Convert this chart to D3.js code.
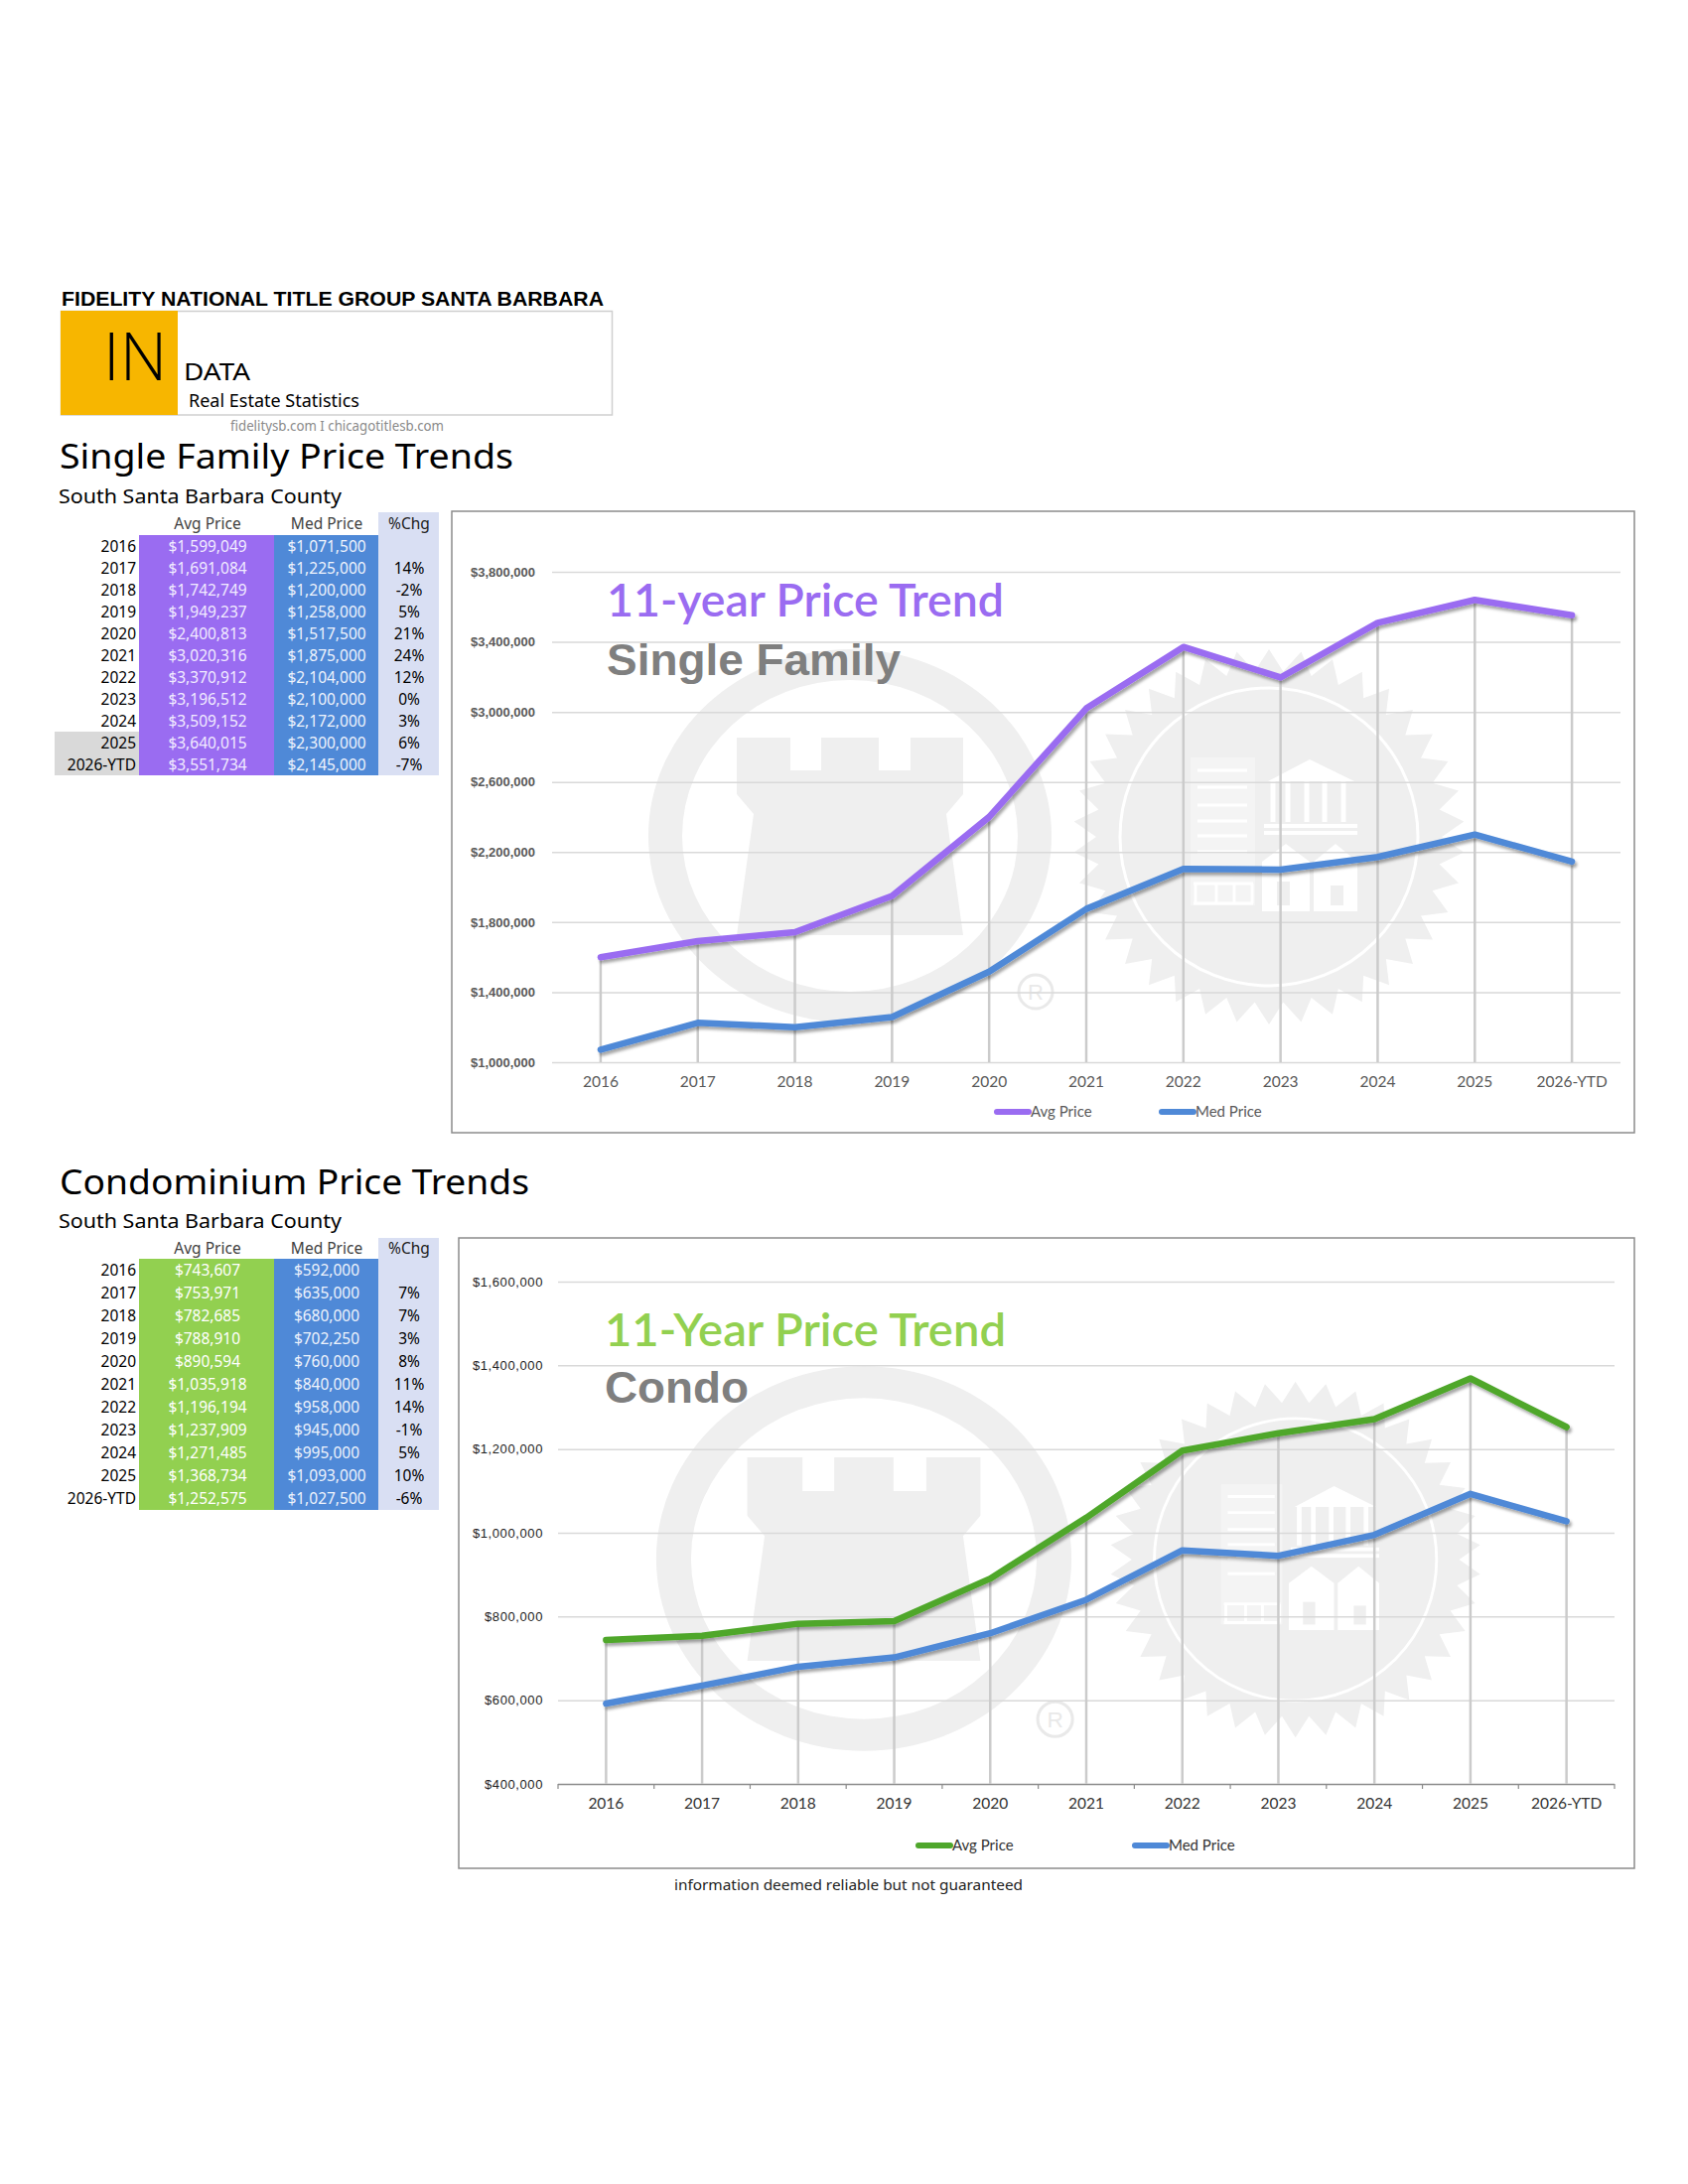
<!DOCTYPE html>
<html><head><meta charset="utf-8">
<script src="https://cdn.jsdelivr.net/npm/d3@7/dist/d3.min.js"></script>
<style>body{margin:0;background:#fff}</style>
</head><body>
<script>
// ---------------- DATA ----------------
const years = ["2016","2017","2018","2019","2020","2021","2022","2023","2024","2025","2026-YTD"];
const sfAvg = [1599049,1691084,1742749,1949237,2400813,3020316,3370912,3196512,3509152,3640015,3551734];
const sfMed = [1071500,1225000,1200000,1258000,1517500,1875000,2104000,2100000,2172000,2300000,2145000];
const sfChg = ["","14%","-2%","5%","21%","24%","12%","0%","3%","6%","-7%"];
const condoAvg = [743607,753971,782685,788910,890594,1035918,1196194,1237909,1271485,1368734,1252575];
const condoMed = [592000,635000,680000,702250,760000,840000,958000,945000,995000,1093000,1027500];
const condoChg = ["","7%","7%","3%","8%","11%","14%","-1%","5%","10%","-6%"];
const sfTicks = [1000000,1400000,1800000,2200000,2600000,3000000,3400000,3800000];
const condoTicks = [400000,600000,800000,1000000,1200000,1400000,1600000];
const seriesNames = ["Avg Price","Med Price"];

// ---------------- STYLE ----------------
const FT = "'Noto Sans', sans-serif";
const FA = "Lato, sans-serif";
const FH = "'Liberation Sans', Arial, sans-serif";
const C = {purple:"#9A6CF1", blue:"#4F89D7", green:"#92D050", lineGreen:"#4FA72C",
  lav:"#D9DFF3", gray:"#D9D9D9", yellow:"#F7B600", wm:"#EFEFEF"};
const money = d3.format("$,");

const svg = d3.select("body").append("svg").attr("width",1700).attr("height",2200)
  .style("font-family",FT);
svg.append("rect").attr("width",1700).attr("height",2200).attr("fill","#fff");
const defs = svg.append("defs");
const f = defs.append("filter").attr("id","sh").attr("x","-5%").attr("y","-10%").attr("width","115%").attr("height","130%");
f.append("feDropShadow").attr("dx",2).attr("dy",3).attr("stdDeviation",1.6)
  .attr("flood-color","#000").attr("flood-opacity",0.35);

function txt(g, s, x, y, o={}) {
  const t = g.append("text").attr("x",x).attr("y",y).text(s)
    .attr("font-family",o.ff||FT).attr("font-size",o.fs||16)
    .attr("fill",o.fill||"#000").attr("font-weight",o.fw||400)
    .attr("text-anchor",o.anchor||"start");
  if (o.tl) t.attr("textLength",o.tl).attr("lengthAdjust","spacingAndGlyphs");
  if (o.ls) t.attr("letter-spacing",o.ls);
  return t;
}

// ---------------- HEADER ----------------
txt(svg,"FIDELITY NATIONAL TITLE GROUP SANTA BARBARA",62,308,{ff:FH,fs:19.5,fw:700,tl:546});
svg.append("rect").attr("x",61.5).attr("y",313.5).attr("width",555).attr("height",104.5)
  .attr("fill","none").attr("stroke","#cfcfcf").attr("stroke-width",1.5);
svg.append("rect").attr("x",61).attr("y",313).attr("width",118).attr("height",105).attr("fill",C.yellow);
txt(svg,"IN",104,383,{ff:"'Open Sans', 'Noto Sans', sans-serif",fs:66,fw:300});
txt(svg,"DATA",185,383,{fs:24,fw:400,tl:67});
txt(svg,"Real Estate Statistics",190,410,{fs:18,tl:172});
txt(svg,"fidelitysb.com I chicagotitlesb.com",232,434,{fs:13.5,fill:"#8a8a8a",tl:215});

// ---------------- TABLES ----------------
function drawTable(o) {
  const g = svg.append("g");
  txt(g,o.title,60,o.titleY,{fs:35,tl:o.titleW});
  txt(g,"South Santa Barbara County",59,o.subY,{fs:19.5,tl:285});
  const n = years.length, top = o.top, rh = o.rh;
  g.append("rect").attr("x",381).attr("y",o.lavTop).attr("width",61).attr("height",top+n*rh-o.lavTop).attr("fill",C.lav);
  if (o.grayRows) o.grayRows.forEach(i=>{
    g.append("rect").attr("x",55).attr("y",top+i*rh).attr("width",85).attr("height",rh).attr("fill",C.gray);
  });
  g.append("rect").attr("x",140).attr("y",top).attr("width",136).attr("height",n*rh).attr("fill",o.c1);
  g.append("rect").attr("x",276).attr("y",top).attr("width",105).attr("height",n*rh).attr("fill",C.blue);
  txt(g,"Avg Price",209,o.headY,{fs:15.5,anchor:"middle",fill:"#404040"});
  txt(g,"Med Price",329,o.headY,{fs:15.5,anchor:"middle",fill:"#404040"});
  txt(g,"%Chg",412,o.headY,{fs:15.5,anchor:"middle",fill:"#222"});
  years.forEach((yr,i)=>{
    const b = top+i*rh+17;
    txt(g,yr,137,b,{fs:15.5,anchor:"end"});
    txt(g,money(o.avg[i]),209,b,{fs:15.5,anchor:"middle",fill:o.t1});
    txt(g,money(o.med[i]),329,b,{fs:15.5,anchor:"middle",fill:"#EEF3FC"});
    txt(g,o.chg[i],412,b,{fs:15.5,anchor:"middle"});
  });
}
drawTable({title:"Single Family Price Trends",titleY:472,titleW:457,subY:507,top:539,rh:22,lavTop:516,headY:533,
  avg:sfAvg,med:sfMed,chg:sfChg,c1:C.purple,t1:"#F1EBFF",grayRows:[9,10]});
drawTable({title:"Condominium Price Trends",titleY:1203,titleW:473,subY:1237,top:1268,rh:23,lavTop:1247,headY:1263,
  avg:condoAvg,med:condoMed,chg:condoChg,c1:C.green,t1:"#FFFFFF"});

// ---------------- WATERMARK ----------------
function ell(cx,cy,rx,ry){return `M${cx-rx},${cy}a${rx},${ry} 0 1,0 ${2*rx},0a${rx},${ry} 0 1,0 ${-2*rx},0Z`;}
function watermark(g,cx,cy,s,ss){
  const w = g.append("g").attr("transform",`translate(${cx},${cy}) scale(${s})`);
  w.append("path").attr("fill",C.wm).attr("fill-rule","evenodd")
    .attr("d",ell(0,0,203,188)+ell(0,0,169,157));
  const tw = [[742,743],[796,743],[796,776],[827,776],[827,743],[885,743],[885,776],[917,776],[917,743],
    [970,743],[970,800],[953,820],[970,942],[742,942],[759,820],[742,800]].map(p=>[p[0]-856,p[1]-842]);
  w.append("path").attr("fill",C.wm).attr("d",d3.line()(tw)+"Z");
  w.append("circle").attr("cx",187).attr("cy",157).attr("r",17).attr("fill","none").attr("stroke","#e9e9e9").attr("stroke-width",3);
  w.append("text").attr("x",187).attr("y",165).attr("text-anchor","middle").attr("font-size",22)
    .attr("font-family",FH).attr("fill","#e9e9e9").text("R");
  // seal
  const sg = w.append("g").attr("transform",`translate(422,1) scale(${ss})`);
  const pts = [], N = 38;
  for (let i=0;i<2*N;i++){ const a = i*Math.PI/N, r = i%2===0?197:174; pts.push([r*Math.sin(a), -r*0.96*Math.cos(a)]); }
  sg.append("path").attr("fill",C.wm).attr("d",d3.line()(pts)+"Z");
  sg.append("circle").attr("r",150).attr("fill","none").attr("stroke","#fff").attr("stroke-width",3);
  const W = "#ffffff";
  sg.append("rect").attr("x",-79).attr("y",-80).attr("width",65).attr("height",149).attr("fill",W).attr("opacity",0.35);
  [-67,-50,-32,-16,-1,15].forEach(yy=>sg.append("line").attr("x1",-72).attr("x2",-22).attr("y1",yy).attr("y2",yy).attr("stroke",W).attr("stroke-width",3));
  [47,67].forEach(yy=>sg.append("line").attr("x1",-76).attr("x2",-16).attr("y1",yy).attr("y2",yy).attr("stroke",W).attr("stroke-width",3));
  [-74,-53,-35,-17].forEach(xx=>sg.append("line").attr("x1",xx).attr("x2",xx).attr("y1",47).attr("y2",67).attr("stroke",W).attr("stroke-width",3));
  sg.append("path").attr("fill",W).attr("d","M-1,-56L41,-78L86,-56Z");
  [4,19,38,56,75].forEach(xx=>sg.append("line").attr("x1",xx).attr("x2",xx).attr("y1",-56).attr("y2",-15).attr("stroke",W).attr("stroke-width",5));
  sg.append("rect").attr("x",-5).attr("y",-13).attr("width",94).attr("height",4).attr("fill",W);
  sg.append("rect").attr("x",-5).attr("y",-6).attr("width",94).attr("height",4).attr("fill",W);
  sg.append("path").attr("fill",W).attr("d","M-7,75L-7,25L17,7L41,25L41,75Z");
  sg.append("path").attr("fill",W).attr("d","M45,75L45,25L67,7L89,25L89,75Z");
  sg.append("rect").attr("x",8).attr("y",45).attr("width",13).attr("height",24).attr("fill",C.wm);
  sg.append("rect").attr("x",62).attr("y",49).attr("width",13).attr("height",20).attr("fill",C.wm);
}

// ---------------- CHARTS ----------------
function drawChart(o){
  const g = svg.append("g");
  g.append("rect").attr("x",o.box[0]).attr("y",o.box[1]).attr("width",o.box[2]-o.box[0]).attr("height",o.box[3]-o.box[1])
    .attr("fill","#fff").attr("stroke","#8c8c8c").attr("stroke-width",1.5);
  watermark(g,o.wm[0],o.wm[1],o.wm[2],o.wm[3]);
  const x = d3.scaleBand().domain(years).range(o.xr);
  const y = d3.scaleLinear().domain([o.ticks[0],o.ticks[o.ticks.length-1]]).range(o.yr);
  const cx = d => x(d)+x.bandwidth()/2;
  const W = o.xr[1]-o.xr[0];
  const ya = g.append("g").attr("transform",`translate(${o.xr[0]},0)`)
    .call(d3.axisLeft(y).tickValues(o.ticks).tickFormat(money).tickSize(-W).tickPadding(o.tpad));
  ya.select(".domain").remove();
  ya.selectAll("line").attr("stroke","#d9d9d9").attr("stroke-width",1.5);
  ya.selectAll("text").attr("font-family",FH).attr("font-size",o.yfs).attr("font-weight",o.yfw)
    .attr("fill",o.yfill).attr("letter-spacing",o.yls||0);
  if (o.axisLine){
    ya.selectAll(".tick").filter(d=>d===o.ticks[0]).select("line").attr("stroke","#8c8c8c");
    const bounds = years.map(d=>x(d)).concat([o.xr[1]]);
    g.selectAll(".tk").data(bounds).join("line").attr("x1",d=>d).attr("x2",d=>d)
      .attr("y1",o.yr[0]).attr("y2",o.yr[0]+5).attr("stroke","#8c8c8c").attr("stroke-width",1.2);
  }
  // titles
  txt(g,o.t1,o.tx,o.t1y,{ff:FA,fs:46,fw:600,fill:o.t1c,tl:o.t1w});
  txt(g,o.t2,o.tx,o.t2y,{ff:FH,fs:44,fw:700,fill:"#7f7f7f",tl:o.t2w});
  // x axis labels
  const xa = g.append("g").attr("transform",`translate(0,${o.yr[0]})`)
    .call(d3.axisBottom(x).tickSize(0).tickPadding(o.xpad));
  xa.select(".domain").remove();
  xa.selectAll("text").attr("font-family",FA).attr("font-size",15.5).attr("fill",o.xfill);
  // drop lines
  g.selectAll(".drop").data(years).join("line")
    .attr("x1",cx).attr("x2",cx).attr("y1",(d,i)=>y(o.avg[i])).attr("y2",o.yr[0])
    .attr("stroke","#cbcbcb").attr("stroke-width",2.5);
  // lines
  const line = d3.line().x(d=>cx(d.k)).y(d=>y(d.v));
  [[o.avg,o.c1],[o.med,C.blue]].forEach(([arr,col])=>{
    g.append("path").datum(years.map((k,i)=>({k,v:arr[i]})))
      .attr("d",line).attr("fill","none").attr("stroke",col).attr("stroke-width",6.5)
      .attr("stroke-linejoin","round").attr("stroke-linecap","round").attr("filter","url(#sh)");
  });
  // legend
  const lg = g.selectAll(".lg").data(seriesNames).join("g")
    .attr("transform",(d,i)=>`translate(${o.legX[i]},${o.legY})`);
  lg.append("line").attr("x1",0).attr("x2",32).attr("y1",0).attr("y2",0)
    .attr("stroke",(d,i)=>i===0?o.c1:C.blue).attr("stroke-width",6).attr("stroke-linecap","round");
  lg.append("text").attr("x",34).attr("y",5).text(d=>d).attr("font-family",FA).attr("font-size",15)
    .attr("fill",o.legFill);
}

drawChart({box:[455,515,1646,1141], wm:[856,842,1,1], xr:[556,1632], yr:[1070,576], ticks:sfTicks,
  tpad:17, yfs:13, yfw:700, yfill:"#595959", xpad:14, xfill:"#595959",
  avg:sfAvg, med:sfMed, c1:C.purple,
  t1:"11-year Price Trend", t1c:C.purple, t1y:621, t1w:400, t2:"Single Family", t2y:680, t2w:296, tx:611,
  legX:[1004,1170], legY:1120, legFill:"#595959"});
drawChart({box:[462,1247,1646,1882], wm:[870,1570,1.03,0.92], xr:[562,1626], yr:[1797,1291], ticks:condoTicks,
  tpad:15, yfs:13, yfw:400, yfill:"#222", yls:0.6, xpad:14, xfill:"#333", axisLine:true,
  avg:condoAvg, med:condoMed, c1:C.lineGreen,
  t1:"11-Year Price Trend", t1c:C.green, t1y:1356, t1w:404, t2:"Condo", t2y:1413, t2w:145, tx:609,
  legX:[925,1143], legY:1859, legFill:"#333"});

txt(svg,"information deemed reliable but not guaranteed",679,1904,{fs:15,fill:"#222",tl:351});
</script>
</body></html>
